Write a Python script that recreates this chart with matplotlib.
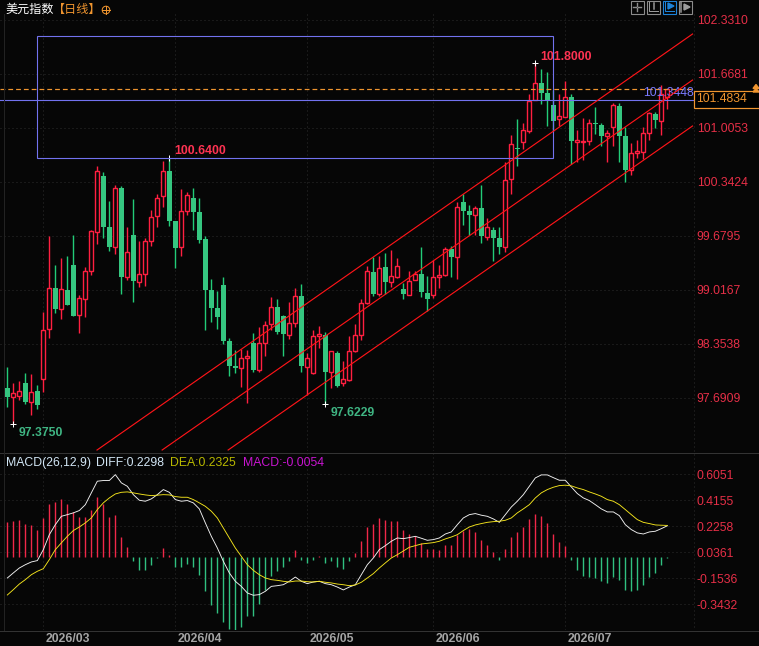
import matplotlib
matplotlib.use("Agg")
import matplotlib.pyplot as plt
from matplotlib.patches import Rectangle, Circle
import numpy as np

W, H = 759, 646
BG = "#060606"
UP = "#ff3352"
DOWN = "#35c680"
TICK_RED = "#e62f47"
GRID = "#2c2c2c"
BLUE = "#7272ee"
ORANGE = "#f0952f"

opens = [97.814, 97.707, 97.719, 97.871, 97.646, 97.777, 97.920, 98.542, 99.041, 98.787,
         99.017, 99.323, 98.714, 98.910, 99.254, 99.733, 100.416, 99.790, 99.549, 100.269,
         99.180, 99.692, 99.115, 99.217, 99.622, 99.929, 100.175, 100.477, 99.864, 99.549,
         99.990, 100.146, 99.974, 99.643, 99.017, 98.796, 99.078, 98.391, 98.084, 98.063,
         98.186, 98.366, 98.035, 98.370, 98.599, 98.808, 98.697, 98.464, 98.616, 98.943,
         98.075, 98.002, 98.456, 98.464, 98.014, 98.243, 97.879, 97.912, 98.268, 98.468,
         98.861, 99.238, 98.968, 99.295, 99.119, 99.180, 99.029, 98.959, 99.144, 99.213,
         98.980, 98.955, 99.180, 99.201, 99.516, 99.422, 100.097, 99.987, 99.937, 100.023,
         99.671, 99.753, 99.655, 99.549, 100.375, 100.760, 100.838, 100.973, 101.349, 101.558,
         101.435, 101.288, 101.112, 101.145, 101.386, 100.838, 100.834, 100.850, 101.067, 101.042,
         100.911, 101.022, 101.276, 100.907, 100.490, 100.703, 100.715, 100.940, 101.177, 101.096,
         101.380]
closes = [97.703, 97.748, 97.773, 97.642, 97.760, 97.605, 98.522, 99.037, 98.783, 99.025,
          98.832, 98.697, 98.914, 99.246, 99.737, 100.473, 99.790, 99.544, 100.265, 99.176,
          99.479, 99.127, 99.209, 99.614, 99.909, 100.142, 100.473, 99.864, 99.532, 99.982,
          100.179, 99.974, 99.630, 99.017, 98.796, 98.685, 98.391, 98.084, 98.063, 98.178,
          98.206, 98.035, 98.362, 98.583, 98.804, 98.501, 98.477, 98.607, 98.939, 98.084,
          98.178, 98.448, 98.477, 98.010, 98.264, 97.838, 97.920, 98.264, 98.460, 98.853,
          99.246, 98.968, 99.283, 99.115, 99.184, 99.307, 98.968, 99.123, 99.209, 98.992,
          98.906, 99.176, 99.201, 99.516, 99.422, 100.031, 99.987, 99.937, 100.019, 99.680,
          99.786, 99.655, 99.545, 100.363, 100.805, 100.748, 100.977, 101.341, 101.554, 101.435,
          101.349, 101.091, 101.149, 101.382, 100.846, 100.858, 100.846, 101.063, 101.059, 100.907,
          100.940, 101.284, 100.907, 100.490, 100.694, 100.723, 100.940, 101.186, 101.104, 101.423,
          101.4834]
highs = [98.067, 97.871, 97.895, 97.994, 97.985, 97.850, 98.746, 99.680, 99.323, 99.409,
         99.434, 99.692, 98.955, 99.303, 99.753, 100.539, 100.465, 100.109, 100.301, 100.293,
         99.786, 100.134, 99.614, 99.655, 99.999, 100.195, 100.596, 100.640, 99.864, 100.252,
         100.220, 100.265, 100.142, 99.680, 99.152, 99.004, 99.176, 98.427, 98.280, 98.288,
         98.280, 98.485, 98.558, 98.640, 98.935, 98.902, 98.710, 98.869, 99.041, 99.090,
         98.247, 98.526, 98.575, 98.501, 98.272, 98.268, 98.141, 98.452, 98.599, 98.902,
         99.311, 99.418, 99.434, 99.475, 99.508, 99.409, 99.103, 99.250, 99.250, 99.545,
         99.188, 99.385, 99.323, 99.545, 99.557, 100.097, 100.195, 100.060, 100.048, 100.306,
         99.901, 99.790, 99.790, 100.588, 100.920, 101.116, 101.067, 101.423, 101.800, 101.730,
         101.693, 101.472, 101.423, 101.582, 101.423, 100.981, 101.128, 101.116, 101.263, 101.067,
         100.981, 101.312, 101.312, 101.018, 100.821, 100.858, 101.018, 101.202, 101.202, 101.533,
         101.4834]
lows = [97.584, 97.375, 97.666, 97.617, 97.486, 97.560, 97.764, 98.427, 98.730, 98.665,
        98.832, 98.697, 98.493, 98.689, 99.205, 99.581, 99.655, 99.495, 99.459, 98.968,
        99.139, 98.869, 99.058, 99.066, 99.557, 99.794, 100.040, 99.802, 99.287, 99.434,
        99.941, 99.753, 99.598, 98.526, 98.624, 98.534, 98.354, 97.961, 98.002, 97.822,
        97.633, 98.010, 98.010, 98.206, 98.526, 98.477, 98.206, 98.419, 98.566, 98.010,
        97.728, 97.985, 98.305, 97.6229, 97.814, 97.830, 97.838, 97.904, 98.256, 98.403,
        98.845, 98.943, 98.943, 98.968, 99.053, 99.164, 98.906, 98.955, 99.139, 98.931,
        98.759, 98.918, 99.041, 99.188, 99.176, 99.152, 99.815, 99.692, 99.692, 99.598,
        99.631, 99.373, 99.459, 99.483, 100.195, 100.539, 100.748, 100.944, 101.349, 101.300,
        101.030, 100.969, 101.030, 101.140, 100.564, 100.588, 100.613, 100.797, 100.932, 100.784,
        100.588, 100.784, 100.588, 100.343, 100.428, 100.633, 100.625, 100.858, 101.005, 100.920,
        101.242]

macd_bar = [0.260, 0.268, 0.275, 0.246, 0.238, 0.202, 0.290, 0.392, 0.406, 0.426,
            0.392, 0.333, 0.297, 0.297, 0.348, 0.443, 0.392, 0.297, 0.311, 0.151,
            0.078, -0.029, -0.092, -0.092, -0.054, -0.002, 0.071, 0.019, -0.068, -0.068,
            -0.049, -0.068, -0.127, -0.243, -0.345, -0.404, -0.470, -0.521, -0.528, -0.506,
            -0.426, -0.426, -0.338, -0.236, -0.134, -0.097, -0.068, -0.024, 0.056, -0.017,
            -0.039, -0.017, 0.012, -0.039, -0.024, -0.068, -0.083, -0.029, 0.034, 0.122,
            0.224, 0.246, 0.290, 0.275, 0.268, 0.268, 0.202, 0.173, 0.158, 0.107,
            0.063, 0.063, 0.056, 0.092, 0.092, 0.165, 0.195, 0.209, 0.187, 0.129,
            0.092, 0.041, -0.017, 0.063, 0.151, 0.187, 0.224, 0.282, 0.319, 0.304,
            0.253, 0.173, 0.114, 0.085, -0.017, -0.090, -0.134, -0.141, -0.148, -0.170,
            -0.185, -0.141, -0.163, -0.236, -0.243, -0.236, -0.200, -0.141, -0.112, -0.054,
            -0.0054]
diff = [-0.151, -0.114, -0.078, -0.054, -0.034, -0.024, 0.056, 0.165, 0.238, 0.299,
        0.311, 0.324, 0.341, 0.384, 0.470, 0.555, 0.560, 0.560, 0.603, 0.543,
        0.518, 0.457, 0.416, 0.409, 0.426, 0.457, 0.494, 0.474, 0.421, 0.409,
        0.414, 0.397, 0.353, 0.251, 0.153, 0.068, -0.029, -0.114, -0.175, -0.212,
        -0.260, -0.277, -0.272, -0.248, -0.212, -0.207, -0.200, -0.175, -0.144, -0.175,
        -0.192, -0.180, -0.175, -0.192, -0.200, -0.217, -0.238, -0.217, -0.200, -0.127,
        -0.054, -0.005, 0.056, 0.085, 0.117, 0.141, 0.136, 0.144, 0.153, 0.139,
        0.124, 0.129, 0.141, 0.170, 0.185, 0.238, 0.287, 0.311, 0.319, 0.307,
        0.299, 0.280, 0.255, 0.311, 0.367, 0.409, 0.457, 0.518, 0.579, 0.601,
        0.601, 0.581, 0.562, 0.562, 0.513, 0.465, 0.433, 0.414, 0.384, 0.353,
        0.331, 0.331, 0.304, 0.238, 0.202, 0.178, 0.170, 0.185, 0.190, 0.209,
        0.2298]
dea = [-0.275, -0.236, -0.195, -0.163, -0.127, -0.102, -0.083, -0.017, 0.056, 0.105,
       0.153, 0.195, 0.221, 0.251, 0.287, 0.348, 0.397, 0.433, 0.462, 0.474,
       0.477, 0.470, 0.462, 0.455, 0.450, 0.453, 0.457, 0.455, 0.443, 0.438,
       0.438, 0.421, 0.397, 0.372, 0.336, 0.287, 0.214, 0.141, 0.068, 0.007,
       -0.054, -0.095, -0.127, -0.151, -0.163, -0.168, -0.175, -0.180, -0.173, -0.173,
       -0.178, -0.180, -0.175, -0.182, -0.187, -0.195, -0.200, -0.207, -0.202, -0.182,
       -0.151, -0.119, -0.078, -0.041, -0.005, 0.019, 0.046, 0.073, 0.085, 0.097,
       0.102, 0.107, 0.117, 0.134, 0.148, 0.165, 0.195, 0.221, 0.236, 0.246,
       0.255, 0.260, 0.263, 0.270, 0.287, 0.324, 0.353, 0.384, 0.433, 0.470,
       0.494, 0.511, 0.523, 0.526, 0.521, 0.506, 0.494, 0.477, 0.462, 0.445,
       0.421, 0.409, 0.384, 0.348, 0.311, 0.275, 0.255, 0.246, 0.236, 0.234,
       0.2325]

price_ticks = [102.3310, 101.6681, 101.0053, 100.3424, 99.6795, 99.0167, 98.3538, 97.6909]
macd_ticks = [0.6051, 0.4155, 0.2258, 0.0361, -0.1536, -0.3432]
month_pos = [6, 28, 50, 71, 93]
month_labels = ["2026/03", "2026/04", "2026/05", "2026/06", "2026/07"]

last_price = 101.4834
level_price = 101.3448
box_idx = (5, 91)
box_price = (100.6400, 102.131)
channel_x0 = [14.95, 25.8, 36.8]
channel_y0 = [97.052, 97.052, 97.052]
channel_x1 = [114.2, 114.2, 114.2]
channel_y1 = [102.159, 101.594, 101.030]

plt.rcParams["font.family"] = ["Liberation Sans", "DejaVu Sans"]
CJK = ["Noto Sans CJK SC", "DejaVu Sans"]
FS = 8.8
PX = 0.72  # one pixel, in points, at dpi 100

x = np.arange(len(opens))
opens, closes = np.array(opens), np.array(closes)
highs, lows = np.array(highs), np.array(lows)
macd_bar = np.array(macd_bar)

fig = plt.figure(figsize=(W / 100, H / 100), dpi=100, facecolor=BG)


def pane(top, bottom):
    ax = fig.add_axes([0, 1 - bottom / H, 694 / W, (bottom - top) / H], facecolor=BG)
    ax.set_xlim(-7.33 / 6, (694 - 7.33) / 6)
    for s in ax.spines.values():
        s.set_visible(False)
    ax.set_xticks(month_pos)
    ax.tick_params(axis="x", length=0, labelbottom=False)
    ax.grid(True, color=GRID, lw=PX, ls=(0, (1, 3)))
    ax.set_axisbelow(True)
    ax.yaxis.tick_right()
    ax.tick_params(axis="y", length=0, pad=2.0, labelsize=FS, labelcolor=TICK_RED)
    return ax


# candles
ax = pane(14, 451)
ax.set_ylim(102.5765 - 0.012276 * 451, 102.5765 - 0.012276 * 14)
ax.set_yticks(price_ticks, [f"{p:.4f}" for p in price_ticks])

rising = closes >= opens
ax.vlines(x[rising], lows[rising], highs[rising], color="#ff1f40", lw=1.4 * PX, zorder=2, snap=True)
ax.vlines(x[~rising], lows[~rising], highs[~rising], color="#22cc78", lw=1.4 * PX, zorder=2, snap=True)
ax.bar(x[rising], (closes - opens)[rising], bottom=opens[rising], width=0.67,
       facecolor=BG, edgecolor="#ff1f40", lw=1.4 * PX, zorder=3, snap=True)
ax.bar(x[~rising], (closes - opens)[~rising], bottom=opens[~rising], width=0.82,
       color=DOWN, lw=0, zorder=3, snap=True)

# high and low markers
for i, p in [(1, 97.375), (53, 97.6229), (27, 100.64), (88, 101.80)]:
    ax.plot(i, p, marker="+", ms=5, mew=PX, color="white", zorder=5)

# channel, box and price levels
for x0, y0, x1, y1 in zip(channel_x0, channel_y0, channel_x1, channel_y1):
    ax.plot([x0, x1], [y0, y1], color="#ff1418", lw=1.15 * PX, zorder=6)
ax.add_patch(Rectangle((box_idx[0], box_price[0]), box_idx[1] - box_idx[0],
                       box_price[1] - box_price[0], fill=False, edgecolor=BLUE,
                       lw=1.1 * PX, zorder=5))
ax.axhline(level_price, color=BLUE, lw=1.1 * PX, zorder=5)
ax.axhline(last_price, color=ORANGE, lw=1.2 * PX, ls=(0, (4, 2.5)), zorder=5)

ax.text(27.9, 100.723, "100.6400", color=UP, fontsize=FS, fontweight="bold", va="center")
ax.text(88.9, 101.877, "101.8000", color=UP, fontsize=FS, fontweight="bold", va="center")
ax.text(1.85, 97.26, "97.3750", color="#3fb583", fontsize=FS, fontweight="bold", va="center")
ax.text(53.8, 97.505, "97.6229", color="#3fb583", fontsize=FS, fontweight="bold", va="center")
ax.text(105.95, 101.44, "101.3448", color="#7a7aff", fontsize=FS, va="center", zorder=5)

# MACD pane
ax2 = pane(452, 630)
ax2.set_ylim((557.3 - 630) / 137.1, (557.3 - 452) / 137.1)
ax2.set_yticks(macd_ticks, [f"{v:.4f}" for v in macd_ticks])
pos = macd_bar >= 0
ax2.vlines(x[pos], 0, macd_bar[pos], color="#f02848", lw=1.4 * PX, zorder=2, snap=True)
ax2.vlines(x[~pos], 0, macd_bar[~pos], color="#30c080", lw=1.4 * PX, zorder=2, snap=True)
ax2.plot(x, diff, color="#f2f2f2", lw=0.9 * PX, zorder=3)
ax2.plot(x, dea, color="#f5e51c", lw=0.9 * PX, zorder=4)

for pos_i, lab in zip(month_pos, month_labels):
    ax2.annotate(lab, (pos_i, 0), xycoords=ax2.get_xaxis_transform(), xytext=(2, -8.5),
                 textcoords="offset pixels", color="#a4a4a4", fontsize=FS, fontweight="bold",
                 va="center", annotation_clip=False)

# header text, separators and toolbar in a pixel-sized overlay
top = fig.add_axes([0, 0, 1, 1], facecolor="none")
top.set_xlim(0, W)
top.set_ylim(H, 0)
top.axis("off")

top.plot([0, W], [452.5, 452.5], color="#333333", lw=PX)
top.plot([0, W], [630.5, 630.5], color="#333333", lw=PX)
top.plot([3.5, 3.5], [14, 630], color="#222222", lw=PX)
top.plot([694, 694], [14, 630], color=GRID, lw=PX, ls=(0, (1, 3)))

top.text(5, 9, "美元指数", color="white", fontsize=8.7, family=CJK, va="center")
top.text(53, 9, "【日线】", color=ORANGE, fontsize=8.7, family=CJK, va="center")
top.add_patch(Circle((106, 10), 3.8, fill=False, edgecolor=ORANGE, lw=PX))
top.plot([102, 110], [10, 10], color=ORANGE, lw=PX)
top.plot([106, 106], [6, 14], color=ORANGE, lw=PX)

for tx, txt, col in [(6, "MACD(26,12,9)", "#d2e6f5"), (96, "DIFF:0.2298", "#d2e6f5"),
                     (170, "DEA:0.2325", "#b8b800"), (243, "MACD:-0.0054", "#c814d0")]:
    top.text(tx, 462.7, txt, color=col, fontsize=FS, va="center")

# toolbar buttons
for bx, col in [(630, "#8c8c8c"), (646, "#8c8c8c"), (662, "#1c82d8"), (678, "#8c8c8c")]:
    top.add_patch(Rectangle((bx + 0.5, 0.5), 13.5, 13.5, fill=False, edgecolor=col, lw=1.1 * PX))
for yy, xs in [(7, (633, 636)), (7, (638, 641))]:
    top.plot(xs, [yy, yy], color="#8c8c8c", lw=1.4 * PX)
for ys in [(3, 6), (8, 11)]:
    top.plot([637, 637], ys, color="#8c8c8c", lw=1.4 * PX)
top.plot([649, 649, 658], [2, 11, 11], color="#9a9a9a", lw=PX)
top.plot([654, 654], [3, 9], color="#9a9a9a", lw=1.5 * PX)
top.plot([665, 665, 674], [2, 11, 11], color="#1c82d8", lw=PX)
top.fill([668, 668, 674], [3, 9, 6], color="#1c82d8")
top.plot([681, 681], [2, 12], color="#9a9a9a", lw=1.5 * PX)
top.fill([684, 684, 690], [4, 10, 7], color="#9a9a9a")

# last price tag
top.add_patch(Rectangle((693.5, 90.5), W, 17, facecolor="black", edgecolor=ORANGE, lw=1.2 * PX, zorder=8))
top.text(696.5, 99, f"{last_price:.4f}", color=ORANGE, fontsize=FS, va="center", zorder=9)
top.fill([753, 759, 756], [88.5, 88.5, 84.5], color=ORANGE, zorder=9)
top.fill([753, 759, 756], [92, 92, 88.5], color=ORANGE, zorder=9)

fig.savefig("out.png", dpi=100, facecolor=BG)
